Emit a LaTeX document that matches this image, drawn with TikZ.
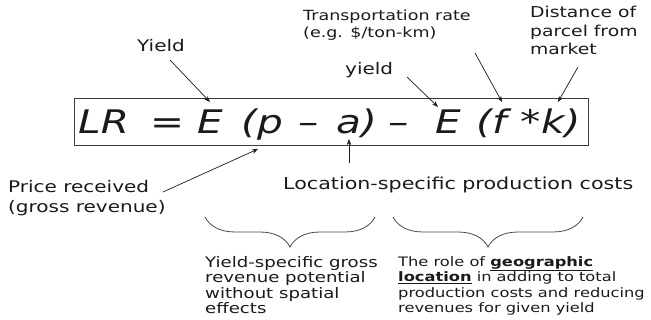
\documentclass[tikz,border=0pt]{standalone}
\usepackage{fontspec}
\setmainfont{DejaVu Sans}[FakeStretch=1.25]
\usetikzlibrary{decorations.pathreplacing,arrows.meta}
\definecolor{ink}{HTML}{1A1A1A}
\begin{document}
\begin{tikzpicture}[x=1pt,y=-1pt,
  lbl/.style={inner sep=0pt, text=ink, align=left},
  fx/.style={inner sep=0pt, text=ink, font=\fontsize{32.5}{36}\selectfont\itshape, anchor=base west},
  arr/.style={-{Stealth[length=6pt,width=4.5pt]}, draw=ink, line width=0.7pt},
  brc/.style={decorate, decoration={brace, amplitude=30pt}, draw=ink!80, line width=0.8pt}]
\useasboundingbox (0,0) rectangle (651,320);

% formula box
\node[draw=ink!85, line width=0.9pt, minimum width=514pt, minimum height=47pt, anchor=north west, inner sep=0pt] (box) at (74,98) {};
\node[fx] (fLR) at (78,134) {LR};
\node[fx] (fEq) at (150,134) {=};
\node[fx] (fE1) at (197,134) {E};
\node[fx] (fP) at (241,134) {(p};
\node[fx] (fM1) at (298,134) {–};
\node[fx] (fA) at (336,134) {a)};
\node[fx] (fM2) at (388,134) {–};
\node[fx] (fE2) at (435,134) {E};
\node[fx] (fF) at (476,134) {(f};
\node[fx] (fS) at (520,134) {*};
\node[fx] (fK) at (541,134) {k)};

% labels
\node[lbl, font=\fontsize{16}{18}\selectfont, anchor=base west] (yield1) at (137,52) {Yield};
\node[lbl, font=\fontsize{14}{16.5}\selectfont, anchor=north west] (trans) at (303,10) {Transportation rate\\(e.g. \$/ton-km)};
\node[lbl, font=\fontsize{15}{18.5}\selectfont, anchor=north west] (dist) at (530,6) {Distance of\\parcel from\\market};
\node[lbl, font=\fontsize{16}{18}\selectfont, anchor=base west] (yield2) at (345,75) {yield};
\node[lbl, font=\fontsize{16}{20}\selectfont, anchor=north west] (price) at (8,180) {Price received\\(gross revenue)};
\node[lbl, font=\fontsize{16.5}{20}\selectfont, anchor=base west] (loc) at (283,190) {Location-specific production costs};
\node[lbl, font=\fontsize{14.5}{15.5}\selectfont, anchor=north west] (left) at (205,256) {Yield-specific gross\\revenue potential\\without spatial\\effects};
\node[lbl, font=\fontsize{13}{15.5}\selectfont, anchor=north west] (right) at (398,256) {The role of \underline{\textbf{geographic}}\\\underline{\textbf{location}} in adding to total\\production costs and reducing\\revenues for given yield};

% arrows
\coordinate (a1s) at (170,60);  \coordinate (a1e) at (210,102);
\coordinate (a2s) at (407,77);  \coordinate (a2e) at (438,107);
\coordinate (a3s) at (475,53);  \coordinate (a3e) at (502,102);
\coordinate (a4s) at (578,67);  \coordinate (a4e) at (558,102);
\coordinate (a5s) at (163,192); \coordinate (a5e) at (258,149);
\coordinate (a6s) at (349,163); \coordinate (a6e) at (349,139);
\draw[arr] (a1s) -- (a1e);
\draw[arr] (a2s) -- (a2e);
\draw[arr] (a3s) -- (a3e);
\draw[arr] (a4s) -- (a4e);
\draw[arr] (a5s) -- (a5e);
\draw[arr] (a6s) -- (a6e);

% braces
\draw[brc] (375,217) -- (205,217);
\draw[brc] (583,217) -- (393,217);
\end{tikzpicture}
\end{document}
